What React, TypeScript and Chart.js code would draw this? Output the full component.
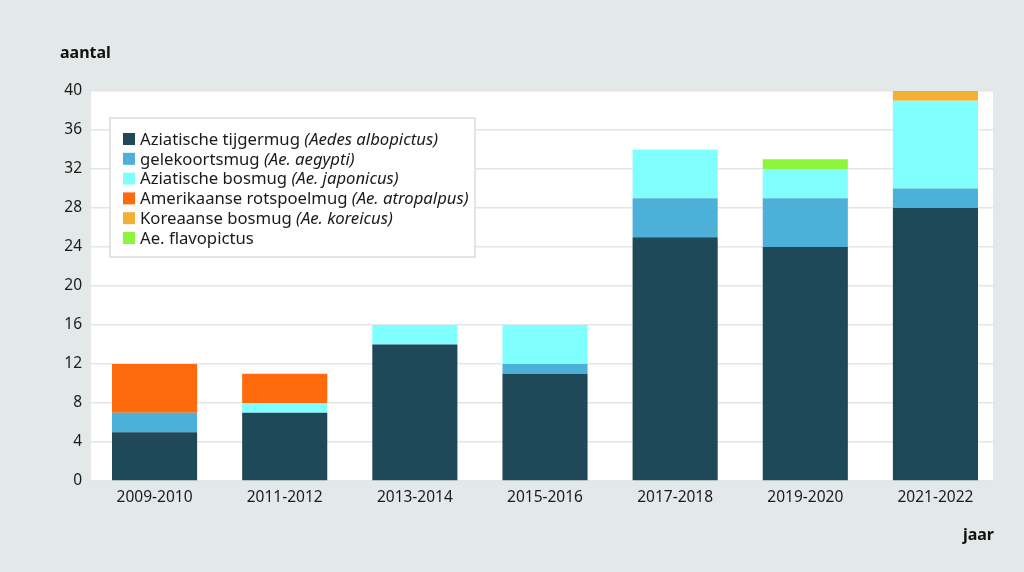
import React, { useEffect, useRef } from "react";
import { Chart, registerables } from "chart.js";

Chart.register(...registerables);

const categories = ["2009-2010", "2011-2012", "2013-2014", "2015-2016", "2017-2018", "2019-2020", "2021-2022"];
const tijgermug = [5, 7, 14, 11, 25, 24, 28];
const gelekoortsmug = [2, 0, 0, 1, 4, 5, 2];
const japonicus = [0, 1, 2, 4, 5, 3, 9];
const atropalpus = [5, 3, 0, 0, 0, 0, 0];
const koreicus = [0, 0, 0, 0, 0, 0, 1];
const flavopictus = [0, 0, 0, 0, 0, 1, 0];
const yTicks = [0, 4, 8, 12, 16, 20, 24, 28, 32, 36, 40];

const legendItems = [
  { name: "Aziatische tijgermug ", latin: "(Aedes albopictus)", color: "#1f4858" },
  { name: "gelekoortsmug ", latin: "(Ae. aegypti)", color: "#4db0d9" },
  { name: "Aziatische bosmug ", latin: "(Ae. japonicus)", color: "#80ffff" },
  { name: "Amerikaanse rotspoelmug ", latin: "(Ae. atropalpus)", color: "#ff6a0d" },
  { name: "Koreaanse bosmug ", latin: "(Ae. koreicus)", color: "#f3b035" },
  { name: "Ae. flavopictus", latin: "", color: "#8ef53a" },
];

const FONT = "'Noto Sans', 'Open Sans', sans-serif";
const BG = "#e3e8e8";
const WHITE_RIGHT = 993;

const bgPlugin = {
  id: "bgPlugin",
  beforeDraw(chart: any) {
    const { ctx, chartArea } = chart;
    ctx.save();
    ctx.fillStyle = BG;
    ctx.fillRect(0, 0, chart.width, chart.height);
    ctx.fillStyle = "#ffffff";
    ctx.fillRect(chartArea.left + 1.5, chartArea.top, WHITE_RIGHT - chartArea.left - 1.5, chartArea.bottom - chartArea.top);
    ctx.restore();
  },
  beforeDatasetsDraw(chart: any) {
    const { ctx, chartArea } = chart;
    ctx.save();
    ctx.fillStyle = BG;
    ctx.fillRect(WHITE_RIGHT, chartArea.top - 2, chart.width - WHITE_RIGHT, chartArea.bottom - chartArea.top + 4);
    ctx.restore();
  },
  afterDraw(chart: any) {
    const { ctx, chartArea } = chart;
    ctx.save();
    ctx.fillStyle = "#111";
    ctx.font = `bold 16px ${FONT}`;
    ctx.textBaseline = "middle";
    ctx.textAlign = "left";
    ctx.fillText("aantal", 60, 53);
    ctx.textAlign = "right";
    ctx.fillText("jaar", 994, 535);
    // legend box
    const bx = 110;
    const by = chartArea.top + 27;
    const bw = 365;
    const bh = 139;
    ctx.fillStyle = "#ffffff";
    ctx.fillRect(bx, by, bw, bh);
    ctx.strokeStyle = "#dcdcdc";
    ctx.lineWidth = 1.5;
    ctx.strokeRect(bx, by, bw, bh);
    const rowH = 19.8;
    legendItems.forEach((it, i) => {
      const cy = by + 21 + i * rowH;
      ctx.fillStyle = it.color;
      ctx.fillRect(bx + 13, cy - 6, 12, 12);
      ctx.fillStyle = "#1a1a1a";
      ctx.textAlign = "left";
      ctx.textBaseline = "middle";
      ctx.font = `16.7px ${FONT}`;
      ctx.fillText(it.name, bx + 30, cy + 1);
      const w = ctx.measureText(it.name).width;
      if (it.latin) {
        ctx.font = `italic 16.7px ${FONT}`;
        ctx.fillText(it.latin, bx + 30 + w, cy + 1);
      }
    });
    ctx.restore();
  },
};

export default function App() {
  const ref = useRef<HTMLCanvasElement>(null);
  useEffect(() => {
    document.body.style.margin = "0";
    const mk = (label: string, data: number[], color: string) => ({
      label,
      data,
      backgroundColor: color,
      borderWidth: 0,
      categoryPercentage: 1,
      barPercentage: 0.654,
    });
    const chart = new Chart(ref.current as HTMLCanvasElement, {
      type: "bar",
      data: {
        labels: categories,
        datasets: [
          mk("Aziatische tijgermug (Aedes albopictus)", tijgermug, legendItems[0].color),
          mk("gelekoortsmug (Ae. aegypti)", gelekoortsmug, legendItems[1].color),
          mk("Aziatische bosmug (Ae. japonicus)", japonicus, legendItems[2].color),
          mk("Amerikaanse rotspoelmug (Ae. atropalpus)", atropalpus, legendItems[3].color),
          mk("Koreaanse bosmug (Ae. koreicus)", koreicus, legendItems[4].color),
          mk("Ae. flavopictus", flavopictus, legendItems[5].color),
        ],
      },
      options: {
        responsive: false,
        animation: false,
        devicePixelRatio: 1,
        layout: { padding: { top: 91, right: 23.5, left: 0, bottom: 0 } },
        plugins: { legend: { display: false }, tooltip: { enabled: false } },
        scales: {
          x: {
            stacked: true,
            grid: { display: false, drawTicks: false },
            border: { display: false },
            ticks: { color: "#1a1a1a", font: { family: FONT, size: 15.5 }, padding: 7 },
            afterFit: (s: any) => { s.height = 91; },
          },
          y: {
            stacked: true,
            min: 0,
            max: 40,
            afterBuildTicks: (s: any) => { s.ticks = yTicks.map((v) => ({ value: v })); },
            grid: { color: "#e3e6e6", lineWidth: 1.5, drawTicks: false },
            border: { display: false },
            ticks: { color: "#1a1a1a", font: { family: FONT, size: 15.5 }, padding: 7.5 },
            afterFit: (s: any) => { s.width = 89.5; },
          },
        },
      },
      plugins: [bgPlugin],
    });
    return () => chart.destroy();
  }, []);
  return (
    <div style={{ width: 1024, height: 572, background: BG }}>
      <canvas ref={ref} width={1024} height={572} />
    </div>
  );
}
